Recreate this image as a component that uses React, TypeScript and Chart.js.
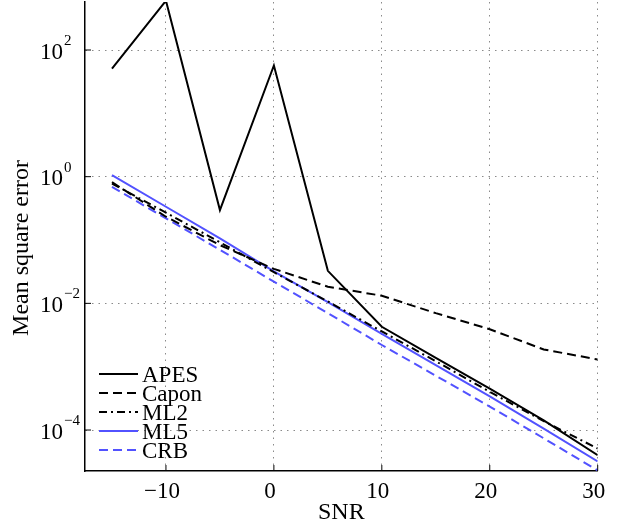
import { useEffect, useRef } from "react";
import { Chart, registerables } from "chart.js";

Chart.register(...registerables);

const snr = [-15, -10, -5, 0, 5, 10, 15, 20, 25, 30];
const apes = [50.8, 600, 0.297, 57, 0.0326, 0.00427, 0.00138, 0.00045, 0.000142, 4.0e-5];
const capon = [0.82, 0.233, 0.083, 0.035, 0.0183, 0.0132, 0.007, 0.0039, 0.00187, 0.0013];
const ml2 = [0.78, 0.27, 0.092, 0.031, 0.0107, 0.0036, 0.00122, 0.0004, 0.000138, 5.1e-5];
const ml5 = [1.06, 0.335, 0.106, 0.032, 0.0105, 0.0033, 0.00106, 0.00034, 0.000105, 3.2e-5];
const crb = [0.69, 0.22, 0.07, 0.022, 0.007, 0.0022, 0.00072, 0.000235, 7.4e-5, 2.3e-5];

const xTicks = [-10, 0, 10, 20, 30];
const yTickExponents = [-4, -2, 0, 2];
const seriesNames = ["APES", "Capon", "ML2", "ML5", "CRB"];
const xTitle = "SNR";
const yTitle = "Mean square error";

const BLUE = "rgb(82,82,255)";
const BLACK = "#000";
const FONT = '"Liberation Serif", "Times New Roman", serif';

const seriesValues = [apes, capon, ml2, ml5, crb];
const seriesColors = [BLACK, BLACK, BLACK, BLUE, BLUE];
const seriesDash: number[][] = [[], [9, 5], [8, 4, 2, 4], [], [9, 5]];

const minus = (v: number) => (v < 0 ? "\u2212" + Math.abs(v) : String(v));

const labelsPlugin = {
  id: "customLabels",
  afterDraw(chart: any) {
    const { ctx, chartArea } = chart;
    const x = chart.scales.x;
    const y = chart.scales.y;
    ctx.save();
    ctx.fillStyle = "#000";
    ctx.strokeStyle = "#000";
    ctx.lineWidth = 1;
    ctx.setLineDash([]);
    // inward tick marks
    xTicks.forEach((v) => {
      const px = x.getPixelForValue(v);
      ctx.beginPath();
      ctx.moveTo(px, chartArea.bottom);
      ctx.lineTo(px, chartArea.bottom - 6);
      ctx.stroke();
    });
    yTickExponents.forEach((e) => {
      const py = y.getPixelForValue(Math.pow(10, e));
      ctx.beginPath();
      ctx.moveTo(chartArea.left, py);
      ctx.lineTo(chartArea.left + 6, py);
      ctx.stroke();
    });
    // x tick labels
    ctx.font = `23px ${FONT}`;
    ctx.textAlign = "center";
    ctx.textBaseline = "alphabetic";
    xTicks.forEach((v) => {
      ctx.fillText(minus(v), x.getPixelForValue(v) - 4, chartArea.bottom + 26.5);
    });
    // y tick labels 10^e
    yTickExponents.forEach((e) => {
      const py = y.getPixelForValue(Math.pow(10, e));
      ctx.font = `23px ${FONT}`;
      ctx.textAlign = "right";
      ctx.fillText("10", chartArea.left - 22, py + 8.5);
      ctx.font = `15px ${FONT}`;
      ctx.textAlign = "left";
      ctx.fillText(minus(e), chartArea.left - 21, py - 5);
    });
    // axis titles
    ctx.font = `24px ${FONT}`;
    ctx.textAlign = "center";
    ctx.fillText(xTitle, (chartArea.left + chartArea.right) / 2, chartArea.bottom + 48);
    ctx.save();
    ctx.translate(28, 248);
    ctx.rotate(-Math.PI / 2);
    ctx.fillText(yTitle, 0, 0);
    ctx.restore();
    // legend
    const lx0 = chartArea.left + 14;
    const lx1 = chartArea.left + 53;
    const ly0 = chartArea.bottom - 97;
    seriesNames.forEach((name, i) => {
      const yy = ly0 + i * 19;
      ctx.save();
      ctx.strokeStyle = seriesColors[i];
      ctx.lineWidth = 2;
      ctx.setLineDash(seriesDash[i]);
      ctx.beginPath();
      ctx.moveTo(lx0, yy);
      ctx.lineTo(lx1, yy);
      ctx.stroke();
      ctx.restore();
      ctx.font = `23px ${FONT}`;
      ctx.textAlign = "left";
      ctx.fillStyle = "#000";
      ctx.fillText(name, lx1 + 4, yy + 7.5);
    });
    ctx.restore();
  },
};

export default function App() {
  const ref = useRef<HTMLCanvasElement | null>(null);
  useEffect(() => {
    if (!ref.current) return;
    const gridCommon = {
      color: "#8a8a8a",
      lineWidth: 1,
      drawTicks: false,
    };
    const chart = new Chart(ref.current, {
      type: "line",
      data: {
        labels: snr,
        datasets: seriesNames.map((name, i) => ({
          label: name,
          data: snr.map((s, j) => ({ x: s, y: seriesValues[i][j] })),
          borderColor: seriesColors[i],
          backgroundColor: seriesColors[i],
          borderWidth: 2,
          borderDash: seriesDash[i],
          pointRadius: 0,
          tension: 0,
          fill: false,
        })),
      },
      options: {
        animation: false,
        responsive: false,
        devicePixelRatio: 1,
        layout: { padding: { top: 2, right: 20.3, left: 0, bottom: 0 } },
        plugins: { legend: { display: false }, tooltip: { enabled: false } },
        scales: {
          x: {
            type: "linear",
            min: -17.5,
            max: 30,
            afterBuildTicks: (scale: any) => {
              scale.ticks = xTicks.map((v) => ({ value: v }));
            },
            afterFit: (scale: any) => {
              scale.height = 56;
            },
            ticks: { display: false },
            grid: gridCommon,
            border: { display: true, color: "#000", width: 1.5, dash: [1.5, 5] },
          },
          y: {
            type: "logarithmic",
            min: Math.pow(10, -4.647),
            max: Math.pow(10, 2.758),
            afterBuildTicks: (scale: any) => {
              scale.ticks = yTickExponents.map((e) => ({ value: Math.pow(10, e) }));
            },
            afterFit: (scale: any) => {
              scale.width = 85;
            },
            ticks: { display: false },
            grid: gridCommon,
            border: { display: true, color: "#000", width: 1.5, dash: [1.5, 5] },
          },
        },
      } as any,
      plugins: [labelsPlugin],
    });
    return () => chart.destroy();
  }, []);
  return (
    <div style={{ position: "fixed", left: 0, top: 0, width: 618, height: 527, background: "#fff" }}>
      <canvas ref={ref} width={618} height={527} style={{ width: 618, height: 527, display: "block" }} />
    </div>
  );
}
